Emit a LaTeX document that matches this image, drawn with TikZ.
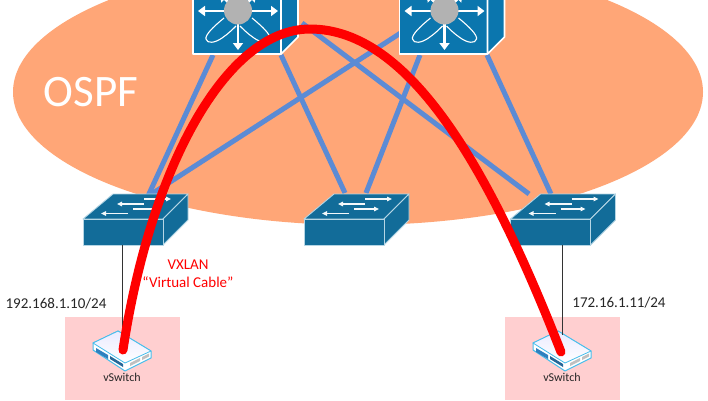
\documentclass[tikz,border=0pt]{standalone}
\usepackage{fontspec}
\setmainfont{Carlito}
\usetikzlibrary{arrows.meta}
\definecolor{ospf}{HTML}{FFA677}
\definecolor{linkblue}{HTML}{5B8BD5}
\definecolor{corefill}{HTML}{0B76AE}
\definecolor{swfill}{HTML}{126C99}
\definecolor{swedge}{HTML}{B5D6E5}
\definecolor{pinkbox}{HTML}{FFCFD0}
\definecolor{vedge}{HTML}{45BDEB}
\definecolor{vdark}{HTML}{2F80BE}
\tikzset{
  x=1pt,y=-1pt,
  uplink/.style={draw=linkblue,line width=5pt},
  access/.style={draw=black!80,line width=.8pt},
  tunnel/.style={draw=red,line width=9pt,line cap=round},
  lbl/.style={font=\fontsize{15}{17}\selectfont,text=black!85,inner sep=0pt},
  vlbl/.style={font=\fontsize{12}{14}\selectfont,text=black!85,inner sep=0pt},
  redlbl/.style={font=\fontsize{15}{18}\selectfont,text=red,inner sep=0pt,align=center},
  swface/.style={fill=swfill,draw=swedge,line width=.9pt,line join=round},
  coreface/.style={fill=corefill,draw=white,line width=1.6pt,line join=round},
  lobe/.style={draw=white,line width=1.1pt},
  warrow/.style={draw=white,line width=2.6pt,-{Triangle[width=10pt,length=7pt]}},
  swarrow/.style={draw=white!85!swedge,line width=1.3pt,-{Triangle[width=4.5pt,length=5pt]}},
}
\newcommand{\coreicon}[1]{%
  \begin{scope}[shift={(#1,0)}]
    \path[coreface] (193,-5) -- (193,54) -- (281,54) -- (281,-5) -- cycle;
    \path[coreface] (281,54) -- (298,37) -- (298,-5) -- (281,-5) -- cycle;
    \draw[lobe] (224,18) .. controls (213,27) and (205,35) .. (206,39) .. controls (207,44) and (215,43) .. (222,38) .. controls (228,34) and (233,29) .. (236,26);
    \draw[lobe] (252,18) .. controls (263,27) and (271,35) .. (270,39) .. controls (269,44) and (261,43) .. (254,38) .. controls (248,34) and (243,29) .. (240,26);
    \draw[warrow] (226,11) -- (198,11);
    \draw[warrow] (250,11) -- (278,11);
    \draw[warrow] (238,23) -- (238,50);
    \draw[warrow] (248,2) -- (256,-6);
    \draw[warrow] (228,2) -- (220,-6);
    \fill[black!30] (238,10.500) circle[radius=14];
  \end{scope}}
\newcommand{\switchicon}[1]{%
  \begin{scope}[shift={(#1,0)}]
    \path[swface] (83,219) -- (113,194) -- (188,194) -- (163,219) -- cycle;
    \path[swface] (163,219) -- (188,194) -- (188,220) -- (163,245) -- cycle;
    \path[swface] (83,219) -- (163,219) -- (163,245) -- (83,245) -- cycle;
    \draw[swarrow] (144,204) -- (117,204);
    \draw[swarrow] (144,199) -- (171,199);
    \draw[swarrow] (133,209) -- (158,209);
    \draw[swarrow] (128,213.500) -- (101,213.500);
  \end{scope}}
\newcommand{\vswitchicon}[1]{%
  \begin{scope}[shift={(#1,0)}]
    \fill[pinkbox] (65,317) rectangle (180,400);
    \path[fill=white,draw=vedge,line width=1pt,line join=round] (93,343) -- (93,350) -- (125,371) -- (151,358) -- (151,351) -- (118,331) -- cycle;
    \path[top color=blue!8,bottom color=white,draw=vedge,line width=.8pt,line join=round] (93,343) -- (118,331) -- (151,351) -- (125,363) -- cycle;
    \fill[vdark] (96,348) -- (108,355) -- (108,359) -- (96,352) -- cycle;
    \fill[vdark!80!black] (110,356) -- (123,364) -- (123,367) -- (110,359) -- cycle;
    \fill[black!25] (130,363) -- (140,358) -- (140,361) -- (130,366) -- cycle;
    \fill[black!25] (142,357) -- (149,353.500) -- (149,356.500) -- (142,360) -- cycle;
  \end{scope}}
\begin{document}
\begin{tikzpicture}
\useasboundingbox (0,0) rectangle (708,400);
\clip (0,0) rectangle (708,400);
\fill[white] (0,0) rectangle (708,400);
\fill[ospf] (358,92) ellipse[x radius=345,y radius=133];
\coordinate (c1a) at (213,55);
\coordinate (c1b) at (281,55);
\coordinate (c1c) at (302,23);
\coordinate (c2a) at (413,25);
\coordinate (c2b) at (420,55);
\coordinate (c2c) at (487,55);
\coordinate (s1a) at (148,196);
\coordinate (s1b) at (150,195);
\coordinate (s2a) at (345,193);
\coordinate (s2b) at (366,193);
\coordinate (s3a) at (529,194);
\coordinate (s3b) at (551,194);
\draw[uplink] (c1a) -- (s1a);
\draw[uplink] (c1b) -- (s2a);
\draw[uplink] (c1c) -- (s3a);
\draw[uplink] (c2a) -- (s1b);
\draw[uplink] (c2b) -- (s2b);
\draw[uplink] (c2c) -- (s3b);
\coreicon{0}
\coreicon{206.500}
\switchicon{0}
\switchicon{221}
\switchicon{427.500}
\vswitchicon{0}
\vswitchicon{440}
\coordinate (s1d) at (122,245);
\coordinate (v1u) at (122,335);
\coordinate (s3d) at (562,245);
\coordinate (v2u) at (562,335);
\draw[access] (s1d) -- (v1u);
\draw[access] (s3d) -- (v2u);
\coordinate (t1) at (123,350);
\coordinate (tp) at (310,29);
\coordinate (t2) at (561,352);
\draw[tunnel] (t1) .. controls (150,170) and (225,29) .. (tp) .. controls (410,29) and (490,170) .. (t2);
\node[text=white,font=\fontsize{45}{48}\selectfont,inner sep=0pt] (ospflabel) at (91,92) {OSPF};
\node[lbl] (ip1) at (56,304) {192.168.1.10/24};
\node[lbl] (ip2) at (619,303) {172.16.1.11/24};
\node[redlbl] (vx) at (188,274) {VXLAN\\“Virtual Cable”};
\node[vlbl] (vs1) at (122,377) {vSwitch};
\node[vlbl] (vs2) at (562,377) {vSwitch};
\end{tikzpicture}
\end{document}
